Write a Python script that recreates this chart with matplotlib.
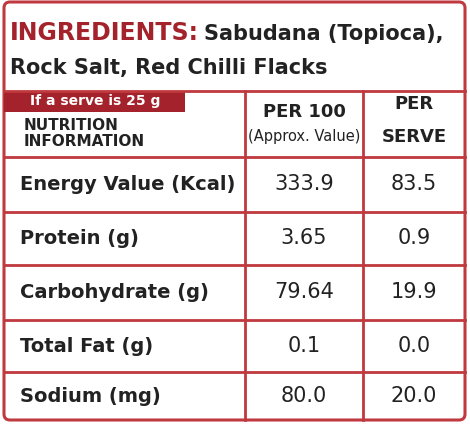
import matplotlib.pyplot as plt
from matplotlib.patches import Rectangle, FancyBboxPatch

RED = '#a3222b'
BORDER = '#c0393f'

nutrients = ['Energy Value (Kcal)', 'Protein (g)', 'Carbohydrate (g)', 'Total Fat (g)', 'Sodium (mg)']
per_100 = ['333.9', '3.65', '79.64', '0.1', '80.0']
per_serve = ['83.5', '0.9', '19.9', '0.0', '20.0']
row_lines = [157, 212, 265, 320, 372, 420]
col_lines = [4, 245, 363, 465]

plt.rcParams['font.family'] = ['Liberation Sans Narrow', 'DejaVu Sans']

fig = plt.figure(figsize=(4.70, 4.29), dpi=100)
ax = fig.add_axes([0, 0, 1, 1])
ax.set_xlim(0, 470)
ax.set_ylim(429, 0)
ax.set_axis_off()

# outer frame
ax.add_patch(FancyBboxPatch((4, 2), 461, 418, boxstyle='round,pad=0,rounding_size=6',
                            fc='white', ec=BORDER, lw=2.2))

# ingredients
ax.text(10, 33, 'INGREDIENTS:', color=RED, fontsize=17, fontweight='bold', va='center')
ax.text(204, 34, 'Sabudana (Topioca),', color='#222', fontsize=15, fontweight='bold', va='center')
ax.text(10, 68, 'Rock Salt, Red Chilli Flacks', color='#222', fontsize=15, fontweight='bold', va='center')

# grid
ax.plot([4, 465], [91, 91], color=BORDER, lw=2)
for y in row_lines[:-1]:
    ax.plot([4, 465], [y, y], color=BORDER, lw=2)
for x in col_lines[1:-1]:
    ax.plot([x, x], [91, 420], color=BORDER, lw=2)

# header
ax.add_patch(Rectangle((4, 91), 181, 21, fc=RED, ec='none'))
ax.text(95, 101, 'If a serve is 25 g', color='white', fontsize=10, fontweight='bold',
        ha='center', va='center')
ax.text(24, 126, 'NUTRITION', color='#222', fontsize=11, fontweight='bold', va='center')
ax.text(24, 142, 'INFORMATION', color='#222', fontsize=11, fontweight='bold', va='center')
ax.text(304, 112, 'PER 100', color='#222', fontsize=13, fontweight='bold', ha='center', va='center')
ax.text(304, 137, '(Approx. Value)', color='#222', fontsize=10.5, ha='center', va='center')
ax.text(414, 104, 'PER', color='#222', fontsize=13, fontweight='bold', ha='center', va='center')
ax.text(414, 137, 'SERVE', color='#222', fontsize=13, fontweight='bold', ha='center', va='center')

for i, name in enumerate(nutrients):
    yc = (row_lines[i] + row_lines[i + 1]) / 2
    ax.text(20, yc, name, color='#222', fontsize=14, fontweight='bold', va='center')
    ax.text(304, yc, per_100[i], color='#222', fontsize=15, ha='center', va='center')
    ax.text(414, yc, per_serve[i], color='#222', fontsize=15, ha='center', va='center')

fig.savefig('out.png', dpi=100, facecolor='white')
